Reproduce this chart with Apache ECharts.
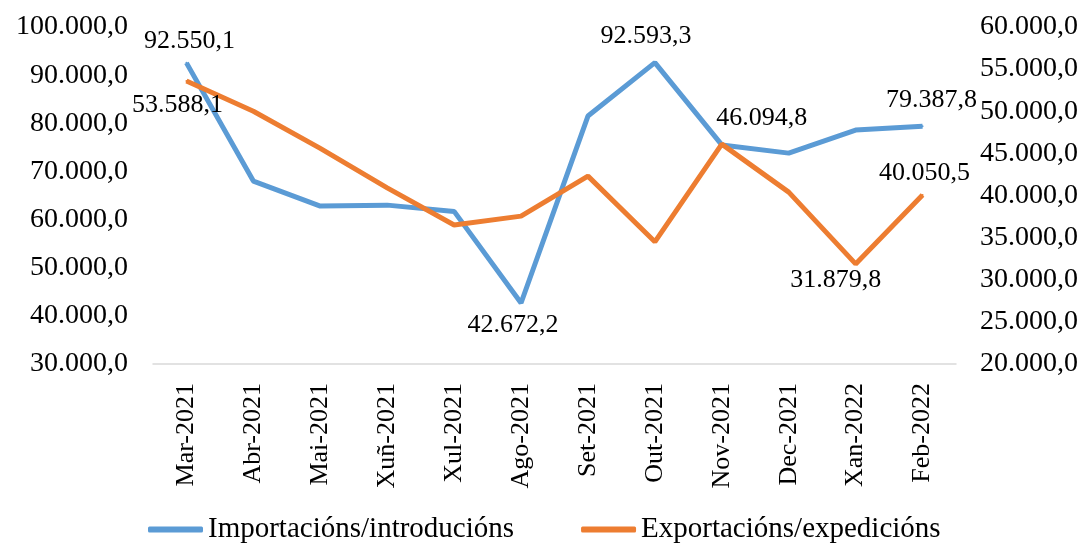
<!DOCTYPE html>
<html>
<head>
<meta charset="utf-8">
<script src="https://cdn.jsdelivr.net/npm/echarts@6/dist/echarts.min.js"></script>
<style>
  html, body { margin: 0; padding: 0; background: #fff; }
  #chart { width: 1088px; height: 546px; }
</style>
</head>
<body>
<div id="chart"></div>
<script>
const months = ["Mar-2021", "Abr-2021", "Mai-2021", "Xuñ-2021", "Xul-2021", "Ago-2021",
  "Set-2021", "Out-2021", "Nov-2021", "Dec-2021", "Xan-2022", "Feb-2022"];
const importacions = [92550.1, 68000, 62800, 63000, 61700, 42672.2, 81500, 92593.3, 75500, 73800, 78600, 79387.8];
const exportacions = [53588.1, 50000, 45600, 40900, 36500, 37550, 42300, 34500, 46094.8, 40400, 31879.8, 40050.5];

// which points carry a value label, with placement
const impLabels = {
  0: { position: "top", offset: [3, 0] },
  5: { position: "bottom", offset: [-8, 0] },
  7: { position: "top", offset: [-9, -4] },
  11: { position: "top", offset: [9, -4] },
};
const expLabels = {
  0: { position: "bottom", offset: [-9, 2] },
  8: { position: "top", offset: [40, -4] },
  10: { position: "bottom", offset: [-20, -6] },
  11: { position: "top", offset: [2, 0] },
};

function fmt(v, dec) {
  const parts = v.toFixed(dec).split(".");
  const int = parts[0].replace(/\B(?=(\d{3})+(?!\d))/g, ".");
  return dec > 0 ? int + "," + parts[1] : int;
}

function withLabels(values, labels) {
  return values.map((v, i) => {
    if (!labels[i]) return v;
    return {
      value: v,
      label: Object.assign({ show: true }, labels[i]),
    };
  });
}

const chart = echarts.init(document.getElementById("chart"));

const labelText = {
  color: "#000",
  fontFamily: "Liberation Serif",
  fontSize: 26,
  distance: 8,
  formatter: (p) => fmt(p.value, 1),
};

const option = {
  animation: false,
  grid: { left: 153, right: 132, top: 27, bottom: 182, containLabel: false },
  legend: {
    top: 510,
    left: 143,
    icon: "roundRect",
    itemWidth: 55,
    itemHeight: 6,
    itemGap: 67,
    textStyle: { color: "#000", fontFamily: "Liberation Serif", fontSize: 29 },
    data: ["Importacións/introducións", "Exportacións/expedicións"],
  },
  xAxis: {
    type: "category",
    data: months,
    boundaryGap: true,
    axisLine: { lineStyle: { color: "#d9d9d9", width: 1.5 } },
    axisTick: { show: false },
    axisLabel: {
      rotate: 90,
      margin: 19,
      interval: 0,
      color: "#000",
      fontFamily: "Liberation Serif",
      fontSize: 26,
    },
  },
  yAxis: [
    {
      type: "value",
      min: 30000,
      max: 100000,
      interval: 10000,
      splitLine: { show: false },
      axisLine: { show: false },
      axisTick: { show: false },
      axisLabel: {
        margin: 25,
        color: "#000",
        fontFamily: "Liberation Serif",
        fontSize: 28,
        formatter: (v) => fmt(v, 1),
      },
    },
    {
      type: "value",
      min: 20000,
      max: 60000,
      interval: 5000,
      splitLine: { show: false },
      axisLine: { show: false },
      axisTick: { show: false },
      axisLabel: {
        margin: 24,
        color: "#000",
        fontFamily: "Liberation Serif",
        fontSize: 28,
        formatter: (v) => fmt(v, 1),
      },
    },
  ],
  series: [
    {
      name: "Importacións/introducións",
      type: "line",
      yAxisIndex: 0,
      data: withLabels(importacions, impLabels),
      symbol: "circle",
      symbolSize: 2,
      showSymbol: true,
      lineStyle: { color: "#5B9BD5", width: 5 },
      itemStyle: { color: "#5B9BD5" },
      label: Object.assign({ show: false }, labelText),
      z: 2,
    },
    {
      name: "Exportacións/expedicións",
      type: "line",
      yAxisIndex: 1,
      data: withLabels(exportacions, expLabels),
      symbol: "circle",
      symbolSize: 2,
      showSymbol: true,
      lineStyle: { color: "#ED7D31", width: 5 },
      itemStyle: { color: "#ED7D31" },
      label: Object.assign({ show: false }, labelText),
      z: 3,
    },
  ],
};
chart.setOption(option);
</script>
</body>
</html>
